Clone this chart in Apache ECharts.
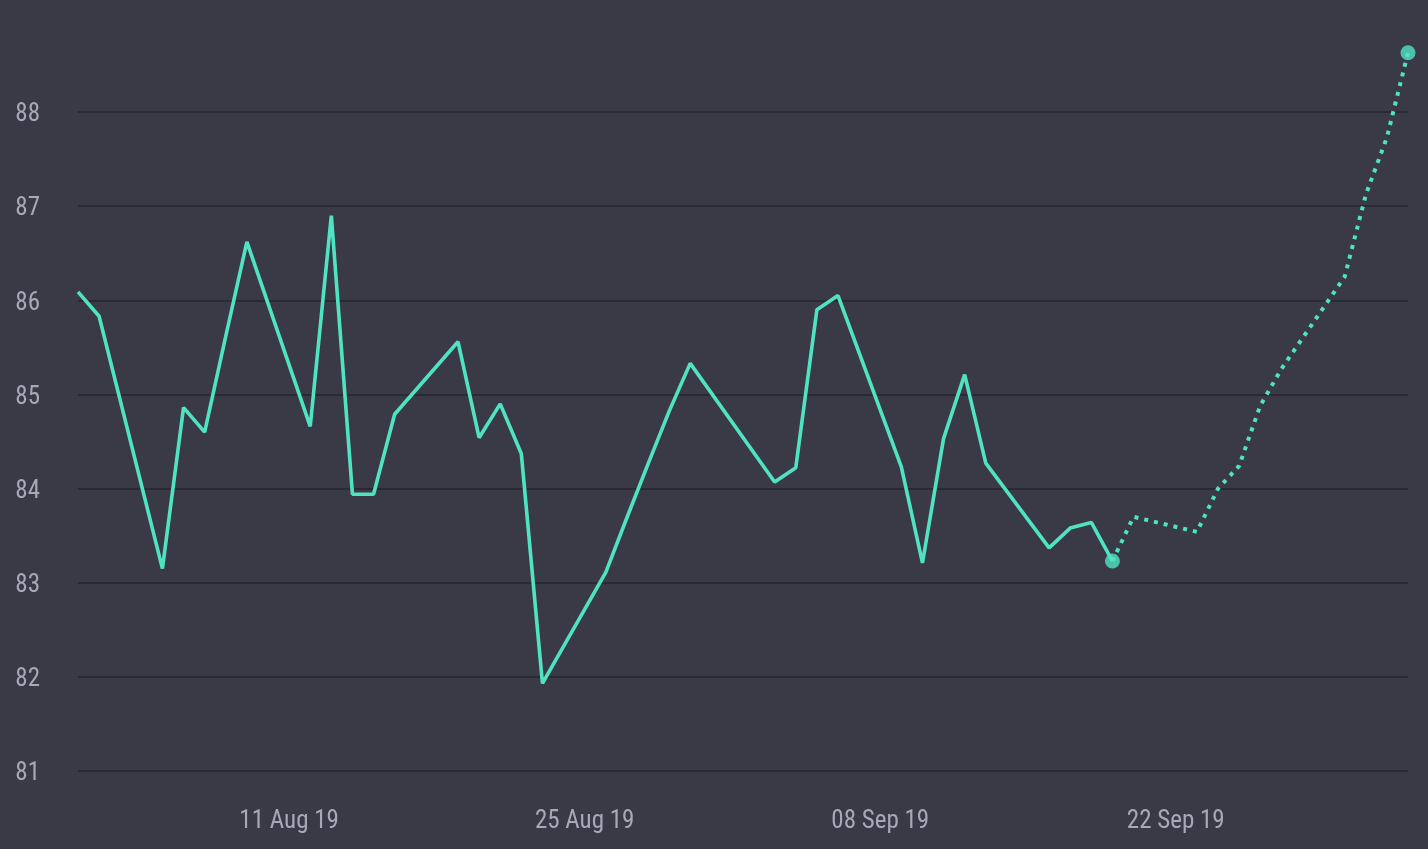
<!DOCTYPE html>
<html>
<head>
<meta charset="utf-8">
<script src="https://cdn.jsdelivr.net/npm/echarts@6/dist/echarts.min.js"></script>
<style>
html,body{margin:0;padding:0;background:#393a46;}
#chart{width:1428px;height:849px;}
</style>
</head>
<body>
<div id="chart"></div>
<script>
// Actual values (solid line)
var actualDates = ['2019-08-01','2019-08-02','2019-08-05','2019-08-06','2019-08-07','2019-08-08','2019-08-09',
  '2019-08-12','2019-08-13','2019-08-14','2019-08-15','2019-08-16',
  '2019-08-19','2019-08-20','2019-08-21','2019-08-22','2019-08-23',
  '2019-08-26','2019-08-27','2019-08-28','2019-08-29','2019-08-30',
  '2019-09-03','2019-09-04','2019-09-05','2019-09-06',
  '2019-09-09','2019-09-10','2019-09-11','2019-09-12','2019-09-13',
  '2019-09-16','2019-09-17','2019-09-18','2019-09-19'];
var actualValues = [86.09,85.83,83.15,84.86,84.60,85.62,86.62,
  84.66,86.90,83.94,83.94,84.79,
  85.56,84.54,84.90,84.37,81.93,
  83.11,83.69,84.26,84.82,85.33,
  84.07,84.22,85.90,86.05,
  84.23,83.21,84.53,85.21,84.27,
  83.37,83.58,83.64,83.23];
// Forecast values (dotted line)
var forecastDates = ['2019-09-19','2019-09-20','2019-09-23','2019-09-24','2019-09-25','2019-09-26','2019-09-27',
  '2019-09-30','2019-10-01','2019-10-02','2019-10-03'];
var forecastValues = [83.23,83.70,83.54,84.00,84.24,84.88,85.27,86.25,87.12,87.73,88.63];
// Axis ticks
var xTickDates = ['2019-08-11','2019-08-25','2019-09-08','2019-09-22'];
var yMin = 81, yMax = 88, yStep = 1;

var MONTHS = ['Jan','Feb','Mar','Apr','May','Jun','Jul','Aug','Sep','Oct','Nov','Dec'];
function toTs(s){ var p = s.split('-'); return Date.UTC(+p[0], +p[1]-1, +p[2]); }
function fmtDate(v){
  var d = new Date(v);
  var dd = d.getUTCDate(); dd = dd < 10 ? '0'+dd : ''+dd;
  return dd + ' ' + MONTHS[d.getUTCMonth()] + ' ' + String(d.getUTCFullYear()).slice(2);
}
function zip(ds, vs){ return ds.map(function(d,i){ return [toTs(d), vs[i]]; }); }

var actualData = zip(actualDates, actualValues);
var forecastData = zip(forecastDates, forecastValues);
var endPoints = [actualData[actualData.length-1], forecastData[forecastData.length-1]];

var FONT = "'Liberation Sans Narrow','Roboto Condensed','DejaVu Sans Condensed',Roboto,sans-serif";
var LINE = '#50e3c2';

var chart = echarts.init(document.getElementById('chart'));
chart.setOption({
  backgroundColor: '#393a46',
  animation: false,
  grid: { left: 78, right: 20, top: 112, bottom: 78 },
  xAxis: {
    type: 'value',
    min: toTs(actualDates[0]),
    max: toTs(forecastDates[forecastDates.length-1]),
    axisLine: { show: false },
    axisTick: { show: false },
    splitLine: { show: false },
    axisLabel: {
      customValues: xTickDates.map(toTs),
      formatter: function(v){ return fmtDate(v); },
      color: '#a8a8b8',
      fontFamily: FONT,
      fontSize: 25,
      margin: 38
    }
  },
  yAxis: {
    type: 'value',
    min: yMin, max: yMax, interval: yStep,
    axisLine: { show: false },
    axisTick: { show: false },
    axisLabel: {
      margin: 38,
      formatter: '{a|{value}}',
      rich: { a: { color: '#a8a8b8', fontFamily: FONT, fontSize: 25, padding: [6, 0, 0, 0] } }
    },
    splitLine: { lineStyle: { color: '#2a2a33', width: 2 } }
  },
  series: [
    {
      type: 'line', data: actualData, showSymbol: false, clip: false,
      lineStyle: { color: LINE, width: 3.6 }, z: 3
    },
    {
      type: 'line', data: forecastData, showSymbol: false, clip: false,
      lineStyle: { color: LINE, width: 4, type: [4, 6] }, z: 3
    },
    {
      type: 'scatter', data: endPoints, symbol: 'circle', symbolSize: 15, clip: false,
      itemStyle: { color: LINE }, z: 4
    }
  ]
});
</script>
</body>
</html>
